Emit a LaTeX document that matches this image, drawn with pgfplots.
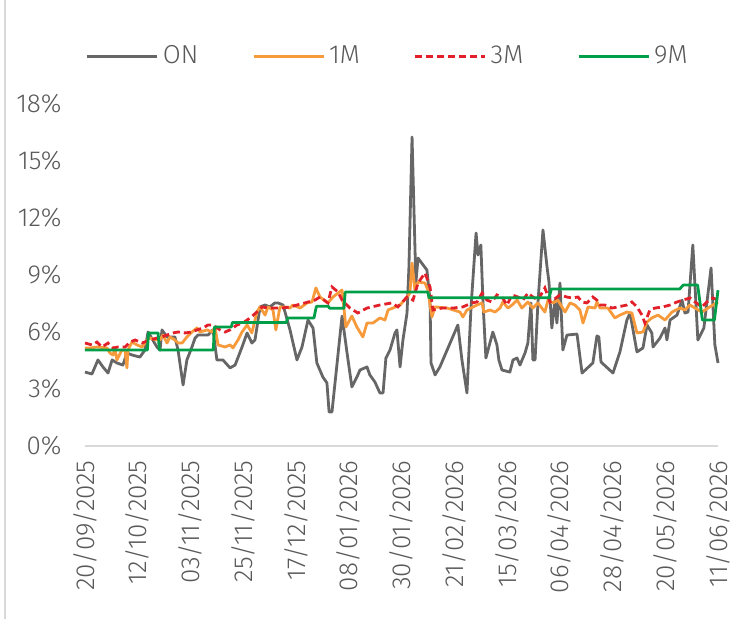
\documentclass[border=0pt]{standalone}
\usepackage{pgfplots}
\pgfplotsset{compat=1.18}
\usepackage{fontspec}
\setmainfont{Fira Sans}[UprightFont=* Light]
\definecolor{txt}{HTML}{595959}
\definecolor{cON}{HTML}{666666}
\definecolor{c1M}{HTML}{F79A3B}
\definecolor{c3M}{HTML}{E2202A}
\definecolor{c9M}{HTML}{009E49}
\definecolor{axl}{HTML}{D9D9D9}
\begin{document}
\begin{tikzpicture}
\path[use as bounding box] (-42.5pt,-86.5pt) rectangle (330pt,223pt);
\draw[axl, line width=0.8pt] (-40pt,-86.5pt) -- (-40pt,223pt);
\begin{axis}[
  scale only axis, width=316.5pt, height=171pt,
  xmin=0, xmax=264, ymin=0, ymax=18,
  axis x line*=bottom, axis y line*=left,
  x axis line style={axl, line width=1pt, -},
  y axis line style={draw=none},
  major tick length=0pt,
  xtick={0,22,44,66,88,110,132,154,176,198,220,242,264},
  xticklabels={20/09/2025,12/10/2025,03/11/2025,25/11/2025,17/12/2025,08/01/2026,30/01/2026,21/02/2026,15/03/2026,06/04/2026,28/04/2026,20/05/2026,11/06/2026},
  xticklabel style={yshift=-7pt, rotate=90, anchor=east, inner sep=0pt, font=\fontsize{13}{15}\selectfont, text=txt},
  ytick={0,3,6,9,12,15,18},
  yticklabel={\pgfmathprintnumber{\tick}\%},
  /pgf/number format/assume math mode=true,
  yticklabel style={anchor=east, inner sep=0pt, xshift=-11.5pt, font=\fontsize{13}{15}\selectfont, text=txt},
  legend columns=4,
  legend style={at={(0.48,1.14)}, anchor=center, draw=none, fill=none, font=\fontsize{13}{15}\selectfont, text=txt,
    /tikz/every even column/.append style={column sep=25pt}},
  legend image code/.code={\draw[#1] (0pt,0pt) -- (35pt,0pt);},
  clip=false,
]
\addplot[cON, line width=1.4pt, line join=round] coordinates {
(0,3.89)(2.9,3.79)(5.4,4.53)(7.5,4.16)(9.6,3.84)(11.3,4.53)(13.3,4.37)(15.8,4.26)(17.5,4.89)(19.6,4.79)
(22.9,4.68)(25.0,5.05)(26.3,6.0)(30.0,5.21)(31.3,5.05)(32.1,6.11)(34.2,5.74)(37.5,5.74)(38.8,5.05)(40.9,3.21)
(42.5,4.53)(44.6,5.21)(45.9,5.68)(47.1,5.84)(48.8,5.84)(51.3,5.84)(53.4,6.11)(55.0,4.53)(57.5,4.53)(60.5,4.11)
(62.6,4.26)(65.5,5.21)(67.6,5.95)(69.6,5.42)(70.9,5.58)(73.0,7.32)(75.1,7.42)(77.1,7.32)(79.2,7.53)(80.5,7.53)
(82.6,7.42)(85.5,6.11)(88.4,4.53)(90.5,5.21)(93.0,6.63)(95.1,6.21)(96.7,4.37)(99.2,3.63)(100.9,3.32)(101.8,1.79)
(103.0,1.79)(107.2,6.84)(109.3,4.89)(111.3,3.11)(113.4,3.63)(114.7,4.0)(117.6,4.16)(118.8,3.74)(120.9,3.37)(123.0,2.79)
(124.3,2.79)(125.5,4.63)(127.2,5.05)(129.3,5.95)(130.1,6.11)(131.4,4.16)(132.6,5.58)(134.3,7.0)(135.1,9.42)(136.4,16.26)
(137.2,12.42)(138.0,8.58)(138.9,9.89)(141.0,9.53)(142.6,9.26)(143.9,7.68)(144.3,4.37)(146.0,3.74)(148.0,4.16)(155.5,6.37)
(157.2,4.53)(159.3,2.79)(161.0,7.32)(163.1,11.21)(163.9,10.05)(165.1,10.58)(166.0,7.53)(167.2,4.63)(170.1,6.0)(171.8,5.32)
(172.6,4.53)(173.9,4.0)(177.2,3.89)(178.5,4.53)(180.2,4.63)(181.4,4.26)(183.5,4.89)(184.7,5.42)(186.0,7.53)(186.8,4.53)
(187.7,4.53)(188.9,7.53)(191.0,11.37)(192.7,9.42)(193.5,8.63)(194.7,6.21)(196.0,7.68)(196.8,6.47)(198.1,8.58)(199.3,5.05)
(201.0,5.84)(205.2,5.89)(207.3,3.84)(211.8,4.37)(213.5,5.79)(214.3,5.74)(215.2,4.42)(220.2,3.84)(223.1,4.95)(226.0,6.63)
(227.3,7.0)(230.2,4.95)(232.7,5.16)(234.4,6.37)(236.4,5.95)(236.9,5.21)(239.8,5.68)(241.9,6.21)(242.7,5.58)(244.0,6.63)
(246.9,6.89)(249.0,7.68)(250.2,7.0)(251.5,7.05)(253.5,10.58)(255.6,5.58)(258.1,6.21)(261.1,9.37)(262.7,5.32)(264.0,4.37)
};
\addlegendentry{ON}
\addplot[c1M, line width=1.4pt, line join=round] coordinates {
(0,5.16)(2.1,5.16)(5.0,5.21)(9.2,5.16)(10.4,4.89)(11.7,4.79)(12.5,5.16)(13.3,4.53)(15.4,5.05)(16.7,5.05)
(17.5,4.11)(17.9,5.05)(19.6,5.47)(21.7,5.32)(23.8,5.21)(25.9,5.58)(27.1,5.68)(30.0,5.58)(31.3,5.58)(32.5,5.84)
(34.2,5.42)(35.4,5.74)(37.5,5.58)(38.8,5.42)(40.5,5.42)(42.5,5.74)(44.6,6.0)(46.7,6.21)(48.0,6.0)(50.9,6.11)
(53.0,6.0)(54.2,6.26)(55.5,5.32)(58.4,5.21)(60.5,5.32)(61.7,5.16)(63.8,5.58)(65.5,6.0)(67.6,6.37)(69.6,5.95)
(71.7,7.05)(73.0,7.32)(75.1,6.89)(76.3,7.32)(78.4,7.16)(79.6,6.11)(81.3,7.32)(83.4,7.32)(85.5,7.26)(86.7,7.42)
(89.7,7.26)(92.6,7.53)(94.7,7.58)(96.3,8.32)(98.0,7.84)(101.3,7.53)(103.4,7.84)(107.2,8.21)(108.8,6.26)(111.3,6.84)
(113.4,6.26)(115.9,5.74)(117.6,6.47)(120.1,6.47)(123.0,6.74)(125.1,6.63)(126.4,7.16)(128.4,7.26)(131.4,7.42)(134.3,7.84)
(135.5,8.05)(136.4,9.63)(137.6,8.21)(138.9,8.63)(141.8,8.58)(143.0,8.21)(144.7,6.79)(146.0,7.32)(151.0,7.26)(156.4,7.05)
(157.6,6.79)(159.3,7.16)(163.5,7.42)(165.6,7.53)(166.4,7.05)(168.9,7.16)(171.0,7.05)(173.1,7.26)(174.3,7.58)(176.4,7.26)
(178.1,7.42)(180.2,7.68)(182.2,7.26)(184.7,7.58)(186.8,7.26)(188.9,7.53)(191.8,7.05)(193.1,7.68)(195.2,7.53)(197.2,7.68)
(200.2,7.05)(202.3,7.53)(204.3,7.42)(206.4,7.16)(207.7,6.47)(209.8,7.32)(212.7,7.26)(213.5,7.58)(214.8,7.26)(218.1,7.26)
(221.0,6.74)(223.1,6.89)(226.0,7.05)(228.1,7.0)(230.2,5.95)(232.7,6.0)(234.4,6.53)(236.4,6.74)(239.0,6.89)(241.9,6.63)
(244.8,7.05)(248.1,7.26)(250.2,7.16)(252.3,7.42)(254.4,7.26)(257.3,7.05)(259.8,7.26)(261.9,7.42)(264.0,7.58)
};
\addlegendentry{1M}
\addplot[c3M, line width=1.4pt, dash pattern=on 3.5pt off 2pt] coordinates {
(0,5.42)(2.9,5.32)(5.0,5.47)(7.1,5.21)(9.6,5.42)(11.7,5.16)(13.8,5.21)(16.7,5.21)(18.8,5.47)(20.9,5.58)
(23.8,5.42)(27.1,5.58)(30.0,5.68)(32.1,5.74)(34.2,5.84)(36.7,5.95)(38.8,6.0)(41.7,5.95)(44.6,6.0)(46.7,6.11)
(49.2,6.21)(51.3,6.37)(53.4,6.37)(56.3,6.11)(58.4,6.0)(60.5,6.11)(63.4,6.37)(65.9,6.47)(68.8,6.74)(71.7,7.05)
(73.8,7.32)(76.3,7.26)(79.2,7.26)(82.2,7.26)(85.5,7.32)(88.4,7.42)(91.7,7.53)(95.9,7.68)(98.0,7.84)(101.3,7.53)
(103.0,8.37)(105.5,8.11)(107.2,7.68)(110.5,7.26)(113.8,7.0)(117.6,7.26)(123.0,7.42)(128.0,7.53)(130.5,7.32)(134.3,7.84)
(136.8,7.68)(138.9,8.58)(141.8,9.11)(143.9,8.37)(145.1,7.16)(148.9,7.26)(153.5,7.26)(157.6,7.32)(161.4,7.53)(163.5,7.58)
(165.6,8.05)(167.6,7.68)(169.7,7.58)(171.8,7.95)(173.9,7.84)(176.0,7.42)(178.1,7.95)(180.6,7.84)(182.7,7.68)(184.7,8.05)
(186.8,7.84)(188.9,7.68)(191.8,8.32)(193.9,7.58)(195.2,7.68)(198.1,7.95)(201.0,7.84)(203.1,7.79)(205.6,7.84)(207.3,7.58)
(209.3,7.53)(211.8,7.84)(213.5,7.68)(214.8,7.42)(216.8,7.42)(219.8,7.26)(222.3,7.32)(226.0,7.42)(228.1,7.58)(230.2,7.32)
(232.3,6.89)(233.5,6.47)(235.6,7.16)(237.7,7.26)(241.0,7.32)(244.0,7.42)(246.9,7.58)(249.4,7.68)(252.3,7.79)(254.4,7.58)
(257.3,7.32)(259.4,7.58)(261.9,7.79)(264.0,7.68)
};
\addlegendentry{3M}
\addplot[c9M, line width=1.4pt, line join=round] coordinates {
(0,5.05)(26,5.05)(26.5,5.95)(30.5,5.95)(31,5.05)(53.5,5.05)(54,6.26)(61,6.26)(61.5,6.5)(84,6.5)
(84.5,6.74)(95.5,6.74)(96.5,7.35)(101.5,7.35)(102,7.25)(108,7.25)(108.5,8.1)(143,8.1)(143.5,7.8)(193.5,7.8)
(194.5,8.26)(248,8.26)(249.5,8.47)(255.5,8.47)(257.5,6.63)(262.5,6.63)(264,8.2)
};
\addlegendentry{9M}
\end{axis}
\end{tikzpicture}
\end{document}
